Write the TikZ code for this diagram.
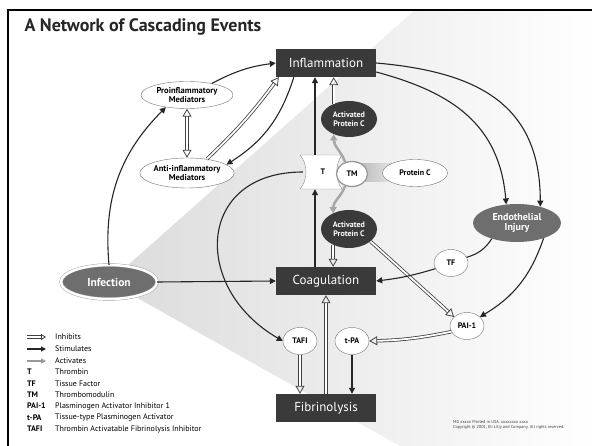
\documentclass[tikz,border=0pt]{standalone}
\usepackage{fontspec}
\setmainfont{PT Sans}
\usetikzlibrary{shapes.geometric,arrows.meta,backgrounds}
\definecolor{boxgray}{HTML}{3A3A3A}
\definecolor{injgray}{HTML}{6E6E6E}
\tikzset{
  box/.style={fill=boxgray, text=white, minimum width=100, minimum height=28, font=\fontsize{13}{13}\selectfont},
  med/.style={ellipse, draw=black!55, fill=white, minimum width=92, minimum height=27, inner sep=0, align=center, font=\fontsize{8.5}{8.5}\selectfont\bfseries},
  apc/.style={ellipse, fill=boxgray, text=white, minimum width=56, minimum height=36, inner sep=0, align=center, font=\fontsize{8}{8.5}\selectfont\bfseries},
  factor/.style={ellipse, draw=black!55, fill=white, minimum width=34, minimum height=27, inner sep=0, font=\fontsize{8}{8}\selectfont\bfseries},
  stim/.style={line width=1.1pt, black!85, -{Triangle[length=6pt,width=6pt]}},
  inhib/.style={draw=black!75, line width=0.8pt, double=white, double distance=1.8pt, -{Triangle[open,length=8pt,width=9pt]}},
  act/.style={line width=2.5pt, black!35, -{Triangle[length=6pt,width=7pt]}},
  key/.style={anchor=west, inner sep=0, font=\fontsize{8}{8}\selectfont},
  abbr/.style={key, font=\fontsize{8}{8}\selectfont\bfseries},
}
\begin{document}
\begin{tikzpicture}[x=1pt,y=1pt]
\useasboundingbox (0,0) rectangle (592,-446);

\node[anchor=west, font=\fontsize{18}{18}\selectfont\bfseries, text=black!85] at (21,-27) (title) {A Network of Cascading Events};

\node[box] at (326,-63) (infl) {Inflammation};
\node[box] at (326,-281) (coag) {Coagulation};
\node[box] at (326,-408) (fibr) {Fibrinolysis};

\node[med] at (187,-95) (pro) {Proinflammatory\\Mediators};
\node[med, minimum height=30] at (187,-173) (anti) {Anti-inflammatory\\Mediators};

\node[apc] at (349,-119) (apcA) {Activated\\Protein C};
\node[apc, minimum height=38] at (349,-229) (apcB) {Activated\\Protein C};

\node[minimum width=40, minimum height=34, font=\fontsize{8}{8}\selectfont\bfseries] at (323,-172) (t) {T};
\coordinate (tx) at (315,-172);
\node[factor, minimum width=31, minimum height=25, draw=black!40, line width=1.3pt] at (352,-174) (tm) {TM};
\node[factor, minimum width=65] at (415,-173) (pc) {Protein C};

\node[ellipse, fill=injgray, text=white, minimum width=88, minimum height=38, inner sep=0, align=center, font=\fontsize{10}{10.5}\selectfont\bfseries] at (517,-223) (endo) {Endothelial\\Injury};
\node[factor] at (451,-263) (tf) {TF};
\node[factor] at (467,-326) (pai) {PAI-1};
\node[factor] at (300,-341) (tafi) {TAFI};
\node[factor] at (352,-341) (tpa) {t-PA};

\node[ellipse, fill=injgray, draw=black!40, double=white, double distance=2.5pt, text=white, minimum width=96, minimum height=34, inner sep=0, font=\fontsize{11.5}{11.5}\selectfont\bfseries] at (109,-282) (inf) {Infection};

% frame
\draw[line width=2.5pt] (8,-446) -- (8,-10);
\draw[line width=2pt] (7,-10) -- (592,-10);

\draw[stim] (inf.north) to[bend left=25] (pro.210);
\draw[stim] (pro.25) to[bend left=10] (infl.west);
\draw[inhib, {Triangle[open,length=8pt,width=9pt]}-{Triangle[open,length=8pt,width=9pt]}] (pro.south) -- (anti.north);
\draw[inhib] (anti.35) to[bend right=5] ([xshift=3pt]infl.south west);
\draw[stim] ([xshift=18pt]infl.south west) to[bend left=20] (anti.12);
\draw[stim] (inf.east) -- (coag.west);

\draw[stim] (tx |- t.north) -- (tx |- infl.south);
\draw[stim] (tx |- coag.north) -- (tx |- t.south);
\draw[act] (tm.120) to[out=110, in=-90] (apcA.225);
\draw[act] (tm.240) to[out=-110, in=90] (apcB.135);
\draw[inhib] (apcA.135) -- (apcA.135 |- infl.south);
\draw[inhib] (apcB.225) -- (apcB.225 |- coag.north);
\draw[inhib] (apcB.-30) -- (pai.145);

\draw[stim] (infl.east) to[out=-5, in=90, looseness=1.2] (endo.35);
\draw[stim] ([yshift=-9pt]infl.east) to[out=-15, in=95, looseness=1.1] (endo.120);
\draw[line width=1.1pt, black!85] (endo.212) to[bend left=20] (tf.20);
\draw[stim] (tf.200) to[bend left=5] (coag.east);
\draw[stim] (endo.-30) to[bend left=20] (pai.35);
\draw[inhib] (pai.200) to[bend left=5] (tpa.east);

\draw[stim] (t.west) to[out=180, in=150, looseness=1.6] (tafi.west);
\draw[inhib] (tafi.south) -- (tafi.south |- fibr.north);
\draw[stim] (tpa.south) -- (tpa.south |- fibr.north);
\draw[inhib] (fibr.north) -- (coag.south);

% key
\coordinate (inhA) at (27,-337); \coordinate (inhB) at (46,-337);
\coordinate (stiA) at (27,-349); \coordinate (stiB) at (46,-349);
\coordinate (actA) at (27,-361); \coordinate (actB) at (46,-361);
\draw[inhib, -{Triangle[open,length=5pt,width=6pt]}] (inhA) -- (inhB);
\draw[stim, -{Triangle[length=5pt,width=5pt]}] (stiA) -- (stiB);
\draw[black!40, line width=1.2pt, -{Triangle[length=5pt,width=5pt]}] (actA) -- (actB);
\node[key] at (55,-337) (kinh) {Inhibits};
\node[key] at (55,-349) (ksti) {Stimulates};
\node[key] at (55,-361) (kact) {Activates};
\node[abbr] at (27,-372) (kt) {T};
\node[abbr] at (27,-384) (ktf) {TF};
\node[abbr] at (27,-395) (ktm) {TM};
\node[abbr] at (27,-406) (kpai) {PAI-1};
\node[abbr] at (27,-418) (ktpa) {t-PA};
\node[abbr] at (27,-429) (ktafi) {TAFI};
\node[key] at (55,-372) (dt) {Thrombin};
\node[key] at (55,-384) (dtf) {Tissue Factor};
\node[key] at (55,-395) (dtm) {Thrombomodulin};
\node[key] at (55,-406) (dpai) {Plasminogen Activator Inhibitor 1};
\node[key] at (55,-418) (dtpa) {Tissue-type Plasminogen Activator};
\node[key] at (55,-429) (dtafi) {Thrombin Activatable Fibrinolysis Inhibitor};

\node[anchor=west, inner sep=0, align=left, text=black!75, font=\fontsize{4.3}{5.5}\selectfont] at (453,-425) (note) {MG xxxxx Printed in USA. xxxxxxxx xxxx\\Copyright © 2001, Eli Lilly and Company. All rights reserved.};

\begin{scope}[on background layer]
\shade[left color=black!14, middle color=black!6, right color=white] (inf.center) -- (415,-10) -- (592,-10) -- (592,-446) -- (400,-446) -- cycle;
\shade[left color=black!30, right color=white] ([yshift=10pt]tm.center) rectangle ([yshift=-9pt]pc.center);
\draw[black!45, fill=white, shift={(t.center)}] (-23,17) .. controls (-15,8) and (-15,-8) .. (-23,-17) -- (19,-17) .. controls (12,-8) and (12,8) .. (19,17) -- cycle;
\end{scope}
\end{tikzpicture}
\end{document}
